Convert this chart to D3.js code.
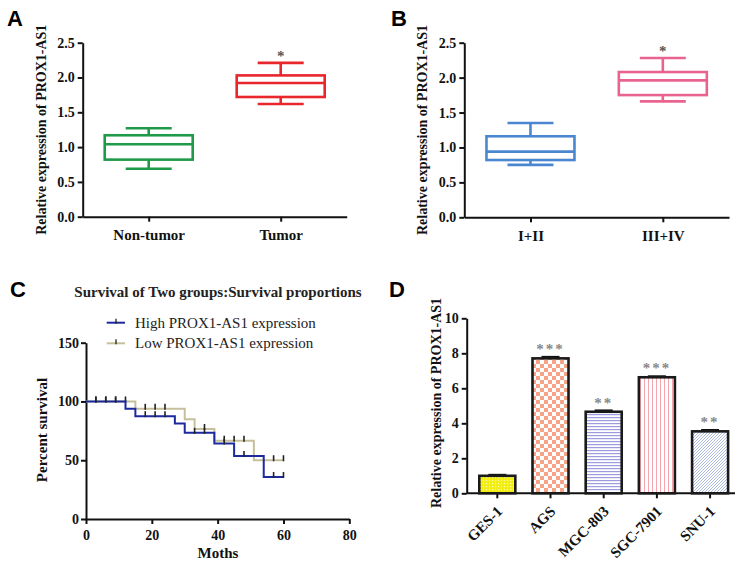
<!DOCTYPE html>
<html><head><meta charset="utf-8">
<script src="https://cdn.jsdelivr.net/npm/d3@7"></script>
<style>
body{margin:0;background:#fff;}
svg text{font-family:"Liberation Serif","Times New Roman",serif;}
.axis path,.axis line{stroke:#111;stroke-width:2px;}
.axis text{font-weight:bold;font-size:14px;fill:#111;}
.panel{font-family:"Liberation Sans",Arial,sans-serif !important;font-weight:bold;font-size:22px;}
</style></head><body>
<svg id="c" width="750" height="571"></svg>
<script>
// ---------- DATA ----------
const boxCatsA = ["Non-tumor","Tumor"];
const boxStatsA = [ // [min, q1, median, q3, max]
  [0.69,0.82,1.04,1.17,1.27],
  [1.62,1.72,1.92,2.03,2.21]
];
const boxColorsA = ["#1f9a48","#e8262c"];
const boxCatsB = ["I+II","III+IV"];
const boxStatsB = [
  [0.75,0.82,0.94,1.16,1.35],
  [1.66,1.75,1.96,2.08,2.28]
];
const boxColorsB = ["#4b87d0","#e8648f"];
const boxTicks = [0,0.5,1.0,1.5,2.0,2.5];

const highTimes = [0,12,15,27,30,39,45,54,60];
const highSurv  = [100,93.75,87.5,81.25,73.3,64.2,53.5,35.7,35.7];
const highCens  = [3,6,9,18,21,24,33,36,42,48,57,60];
const lowTimes  = [0,15,30,33,39,51,60];
const lowSurv   = [100,93.75,84.8,76.6,66.6,50,50];
const lowCens   = [3,6,9,12,18,21,24,36,42,45,48,57,60];
const survXTicks = [0,20,40,60,80];
const survYTicks = [0,50,100,150];

const cellLines = ["GES-1","AGS","MGC-803","SGC-7901","SNU-1"];
const cellValues = [1.0,7.71,4.66,6.63,3.54];
const cellErrors = [0.05,0.08,0.07,0.05,0.07];
const cellStars  = ["","***","**","***","**"];
const cellTicks  = [0,2,4,6,8,10];

const svg = d3.select("#c");
const yLabel = "Relative expression of PROX1-AS1";

// ---------- patterns ----------
const defs = svg.append("defs");
function pat(id,w,h,draw){const p=defs.append("pattern").attr("id",id).attr("patternUnits","userSpaceOnUse").attr("width",w).attr("height",h);draw(p);}
pat("pGES",3,3,p=>{p.append("rect").attr("width",3).attr("height",3).attr("fill","#f2ee10");p.append("rect").attr("width",1.2).attr("height",1.2).attr("fill","#fffbb0");});
pat("pAGS",8,8,p=>{p.append("rect").attr("width",8).attr("height",8).attr("fill","#fff");p.append("rect").attr("width",4).attr("height",4).attr("fill","#f5a487");p.append("rect").attr("x",4).attr("y",4).attr("width",4).attr("height",4).attr("fill","#f5a487");});
pat("pMGC",4,3,p=>{p.append("rect").attr("width",4).attr("height",3).attr("fill","#fff");p.append("rect").attr("width",4).attr("height",1.2).attr("fill","#9e9be0");});
pat("pSGC",4,4,p=>{p.append("rect").attr("width",4).attr("height",4).attr("fill","#fff");p.append("rect").attr("width",1).attr("height",4).attr("fill","#f4a5ae");});
pat("pSNU",3,3,p=>{p.append("rect").attr("width",3).attr("height",3).attr("fill","#fff");p.append("path").attr("d","M0,3 L3,0 M-1,1 L1,-1 M2,4 L4,2").attr("stroke","#a3b3db").attr("stroke-width",0.9);});
const cellFills = ["url(#pGES)","url(#pAGS)","url(#pMGC)","url(#pSGC)","url(#pSNU)"];

// ---------- box panel ----------
function boxPanel(x0,x1,yTop,yBot,cats,stats,colors,starY,labelX,letter,letterX){
  const g = svg.append("g");
  const x = d3.scalePoint().domain(cats).range([x0,x1]).padding(0.5);
  const y = d3.scaleLinear().domain([0,2.5]).range([yBot,yTop]);
  g.append("g").attr("class","axis").attr("transform",`translate(${x0},0)`)
    .call(d3.axisLeft(y).tickValues(boxTicks).tickFormat(d3.format(".1f")).tickSize(5).tickSizeOuter(0).tickPadding(3));
  g.append("g").attr("class","axis").attr("transform",`translate(0,${yBot})`)
    .call(d3.axisBottom(x).tickSize(5).tickSizeOuter(0).tickPadding(8))
    .selectAll("text").style("font-size","15px");
  const bw=88, cw=46;
  cats.forEach((c,i)=>{
    const s=stats[i], cx=x(c), col=colors[i];
    const b=g.append("g").attr("stroke",col).attr("stroke-width",2.6).attr("fill","none");
    b.append("line").attr("x1",cx).attr("x2",cx).attr("y1",y(s[4])).attr("y2",y(s[3]));
    b.append("line").attr("x1",cx).attr("x2",cx).attr("y1",y(s[1])).attr("y2",y(s[0]));
    b.append("line").attr("x1",cx-cw/2).attr("x2",cx+cw/2).attr("y1",y(s[4])).attr("y2",y(s[4]));
    b.append("line").attr("x1",cx-cw/2).attr("x2",cx+cw/2).attr("y1",y(s[0])).attr("y2",y(s[0]));
    b.append("rect").attr("x",cx-bw/2).attr("width",bw).attr("y",y(s[3])).attr("height",y(s[1])-y(s[3]));
    b.append("line").attr("x1",cx-bw/2).attr("x2",cx+bw/2).attr("y1",y(s[2])).attr("y2",y(s[2]));
  });
  g.append("text").attr("x",x(cats[1])).attr("y",y(starY)+9).attr("text-anchor","middle")
    .attr("font-size","15px").attr("font-weight","bold").attr("fill","#555").text("*");
  g.append("text").attr("transform",`translate(${labelX},${(yTop+yBot)/2}) rotate(-90)`)
    .attr("text-anchor","middle").attr("font-size","14px").attr("font-weight","bold").attr("fill","#111").text(yLabel);
  svg.append("text").attr("class","panel").attr("x",letterX).attr("y",26).text(letter);
}
boxPanel(82.7,346.7,42.7,216.7,boxCatsA,boxStatsA,boxColorsA,2.37,46,"A",7);
boxPanel(464.3,729,42.7,217.3,boxCatsB,boxStatsB,boxColorsB,2.44,427,"B",391);

// ---------- survival panel ----------
(function(){
  const g=svg.append("g");
  const x=d3.scaleLinear().domain([0,80]).range([86,349.3]);
  const y=d3.scaleLinear().domain([0,150]).range([519,342.7]);
  g.append("g").attr("class","axis").attr("transform","translate(86,0)")
    .call(d3.axisLeft(y).tickValues(survYTicks).tickSize(5).tickSizeOuter(0).tickPadding(2));
  g.append("g").attr("class","axis").attr("transform","translate(0,519)")
    .call(d3.axisBottom(x).tickValues(survXTicks).tickSize(5).tickSizeOuter(0).tickPadding(6));
  const line=d3.line().x(d=>x(d[0])).y(d=>y(d[1])).curve(d3.curveStepAfter);
  function stepAt(times,surv,t){let v=surv[0];for(let i=0;i<times.length;i++){if(times[i]<=t)v=surv[i];}return v;}
  function drawCurve(times,surv,cens,col){
    g.append("path").datum(times.map((t,i)=>[t,surv[i]])).attr("d",line)
      .attr("fill","none").attr("stroke",col).attr("stroke-width",2);
    cens.forEach(t=>{const v=stepAt(times,surv,t);
      g.append("line").attr("x1",x(t)).attr("x2",x(t)).attr("y1",y(v)-5).attr("y2",y(v)+1).attr("stroke","#222").attr("stroke-width",1.6);});
  }
  drawCurve(lowTimes,lowSurv,lowCens,"#c6bf9c");
  drawCurve(highTimes,highSurv,highCens,"#1d2a9e");
  // legend
  const leg=[["High PROX1-AS1 expression","#1d2a9e",322.7],["Low PROX1-AS1 expression","#c6bf9c",343.3]];
  leg.forEach(l=>{
    g.append("line").attr("x1",106.7).attr("x2",125).attr("y1",l[2]).attr("y2",l[2]).attr("stroke",l[1]).attr("stroke-width",2);
    g.append("line").attr("x1",116).attr("x2",116).attr("y1",l[2]-4).attr("y2",l[2]+1).attr("stroke","#222").attr("stroke-width",1.3);
    g.append("text").attr("x",135).attr("y",l[2]+5).attr("font-size","15px").attr("fill","#222").text(l[0]);
  });
  g.append("text").attr("x",218).attr("y",297).attr("text-anchor","middle").attr("font-size","15px").attr("font-weight","bold").attr("fill","#222").text("Survival of Two groups:Survival proportions");
  g.append("text").attr("transform","translate(47,430) rotate(-90)").attr("text-anchor","middle").attr("font-size","15px").attr("font-weight","bold").attr("fill","#111").text("Percent survival");
  g.append("text").attr("x",218).attr("y",558).attr("text-anchor","middle").attr("font-size","15px").attr("font-weight","bold").attr("fill","#111").text("Moths");
  svg.append("text").attr("class","panel").attr("x",10).attr("y",297).text("C");
})();

// ---------- bar panel ----------
(function(){
  const g=svg.append("g");
  const x=d3.scaleBand().domain(cellLines).range([466.7,740.7]).paddingInner(0.323).paddingOuter(0.237);
  const y=d3.scaleLinear().domain([0,10]).range([493.3,318.3]);
  g.append("g").attr("class","axis").attr("transform","translate(466.7,0)")
    .call(d3.axisLeft(y).tickValues(cellTicks).tickSize(5).tickSizeOuter(0).tickPadding(3));
  const xa=g.append("g").attr("class","axis").attr("transform","translate(0,493.3)")
    .call(d3.axisBottom(x).tickSize(5).tickSizeOuter(0));
  xa.select(".domain").remove();
  xa.append("line").attr("x1",466.7).attr("x2",735).attr("y1",0).attr("y2",0).attr("stroke","#111").attr("stroke-width",2);
  xa.selectAll(".tick text").attr("text-anchor","end").attr("dx","0").attr("dy","0")
    .attr("transform","translate(6,19) rotate(-45)").attr("y",0).style("font-size","15px");
  const bw=x.bandwidth();
  cellLines.forEach((c,i)=>{
    const xl=x(c), cx=xl+bw/2, v=cellValues[i], e=cellErrors[i];
    g.append("line").attr("x1",cx).attr("x2",cx).attr("y1",y(v)).attr("y2",y(v+e)).attr("stroke","#111").attr("stroke-width",2);
    g.append("line").attr("x1",cx-9).attr("x2",cx+9).attr("y1",y(v+e)).attr("y2",y(v+e)).attr("stroke","#111").attr("stroke-width",2.2);
    g.append("rect").attr("x",xl).attr("width",bw).attr("y",y(v)).attr("height",y(0)-y(v))
      .attr("fill",cellFills[i]).attr("stroke","#1a1a1a").attr("stroke-width",2.6);
    if(cellStars[i]) g.append("text").attr("x",cx).attr("y",y(v+e)-3).attr("text-anchor","middle")
      .attr("font-size","15px").attr("font-weight","bold").attr("letter-spacing","2px").attr("fill","#888").text(cellStars[i]);
  });
  g.append("text").attr("transform","translate(441,403) rotate(-90)").attr("text-anchor","middle").attr("font-size","14px").attr("font-weight","bold").attr("fill","#111").text(yLabel);
  svg.append("text").attr("class","panel").attr("x",389).attr("y",297).text("D");
})();
</script></body></html>
